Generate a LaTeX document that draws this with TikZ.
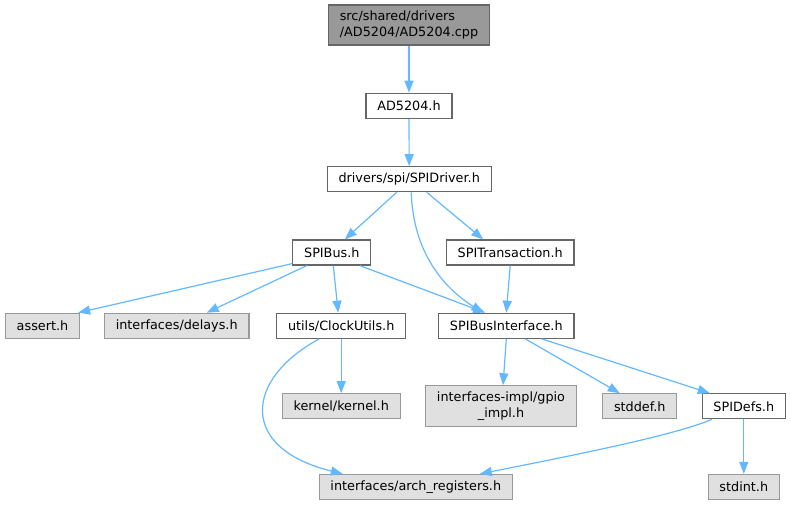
\documentclass[tikz,border=0pt]{standalone}
\usepackage{fontspec}
\setmainfont{DejaVu Sans}
\usepackage{xcolor}
\usetikzlibrary{arrows.meta}
\definecolor{edgeblue}{HTML}{63B8FF}
\definecolor{boxgray}{HTML}{E0E0E0}
\definecolor{rimgray}{HTML}{999999}
\definecolor{rimdark}{HTML}{666666}

\begin{document}
\begin{tikzpicture}[x=1pt,y=-1pt,
    every node/.style={draw,line width=1.2pt,inner xsep=11.3pt,inner ysep=6pt,minimum height=25pt,font=\fontsize{12.8}{15.5}\selectfont},
    mainfile/.style={draw=rimdark,fill=rimgray,align=left},
    hdr/.style={draw=rimdark,fill=white},
    sys/.style={draw=rimgray,fill=boxgray,align=center},
    inc/.style={draw=edgeblue,line width=1.2pt,-{Triangle[length=12pt,width=9pt]}}]
    \useasboundingbox (0,0) rectangle (791,505);
    \node[mainfile] (root) at (409,25) {src/shared/drivers\\/AD5204/AD5204.cpp};
    \node[hdr] (ad5204) at (409,105.8) {AD5204.h};
    \node[hdr] (spidriver) at (409.2,179.2) {drivers/spi/SPIDriver.h};
    \node[hdr] (spibus) at (331.8,252.5) {SPIBus.h};
    \node[hdr] (spitrans) at (510.2,252.5) {SPITransaction.h};
    \node[sys] (assert) at (42.5,325.8) {assert.h};
    \node[sys] (delays) at (176.7,325.8) {interfaces/delays.h};
    \node[hdr] (clockutils) at (341.2,325.8) {utils/ClockUtils.h};
    \node[hdr] (spibusif) at (506.3,325.8) {SPIBusInterface.h};
    \node[sys] (kernel) at (341.2,406.3) {kernel/kernel.h};
    \node[sys] (gpio) at (501,406) {interfaces-impl/gpio\\\_impl.h};
    \node[sys] (stddef) at (639.8,406.3) {stddef.h};
    \node[hdr] (spidefs) at (743.8,406.3) {SPIDefs.h};
    \node[sys] (arch) at (415.8,487) {interfaces/arch\_registers.h};
    \node[sys] (stdint) at (743.8,487) {stdint.h};
    \draw[inc] (root) -- (ad5204);
    \draw[inc] (ad5204) -- (spidriver);
    \draw[inc] ([xshift=-12.5pt]spidriver.south) -- ([xshift=13pt]spibus.north);
    \draw[inc] ([xshift=2pt]spidriver.south) .. controls +(2,60) and +(-40,-25) .. ([xshift=-23pt]spibusif.north);
    \draw[inc] ([xshift=17.5pt]spidriver.south) -- ([xshift=-27pt]spitrans.north);
    \draw[inc] ([yshift=2pt]spibus.south west) -- ([xshift=-2pt]assert.north east);
    \draw[inc] ([xshift=-25pt]spibus.south) -- ([xshift=30pt]delays.north);
    \draw[inc] ([xshift=1.5pt]spibus.south) -- ([xshift=-3pt]clockutils.north);
    \draw[inc] ([xshift=28pt]spibus.south) -- ([xshift=-21pt]spibusif.north);
    \draw[inc] (spitrans.south) -- (spibusif.north);
    \draw[inc] (clockutils) -- (kernel);
    \draw[inc] ([xshift=-22pt]clockutils.south) .. controls +(-74,40) and +(-105,-26) .. ([xshift=-73pt]arch.north);
    \draw[inc] (spibusif.south) -- ([xshift=2pt]gpio.north);
    \draw[inc] ([xshift=19pt]spibusif.south) -- ([xshift=-20pt]stddef.north);
    \draw[inc] ([xshift=35.5pt]spibusif.south) -- ([xshift=-34pt]spidefs.north);
    \draw[inc] ([xshift=-32pt]spidefs.south) .. controls +(-40,17) and +(80,-16) .. ([xshift=64pt]arch.north);
    \draw[inc] (spidefs) -- (stdint);
\end{tikzpicture}
\end{document}
